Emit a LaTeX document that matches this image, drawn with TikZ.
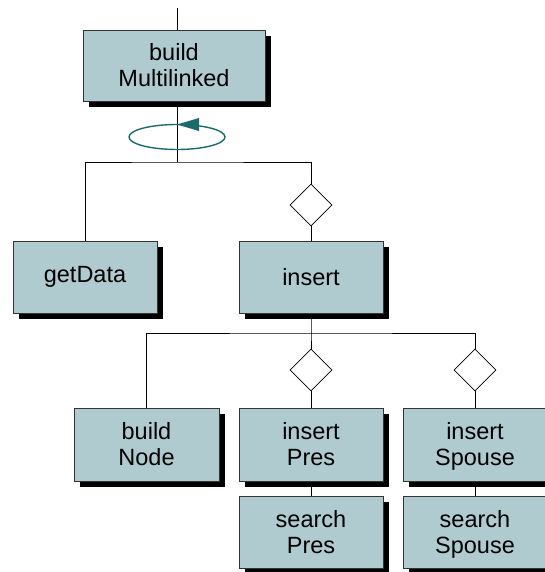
\documentclass[tikz,border=0pt]{standalone}
\usepackage{fontspec}
\setmainfont{Liberation Sans}
\usetikzlibrary{arrows.meta,shapes.geometric,shadows}
\definecolor{boxfill}{HTML}{AFCBCF}
\definecolor{looptea}{HTML}{1A6B6B}
\newcommand{\twoline}[2]{\rule[-5pt]{0pt}{26pt}#1\\\rule[-5pt]{0pt}{26pt}#2}
\begin{document}
\begin{tikzpicture}[x=1pt,y=-1pt,
  every node/.style={font=\fontsize{23.5}{26}\selectfont},
  task/.style={draw=black!80,fill=boxfill,line width=1pt,minimum width=144pt,
    minimum height=72pt,align=center,inner sep=0pt,
    drop shadow={shadow xshift=6pt,shadow yshift=-6pt,fill=black,opacity=1}},
  choice/.style={shape=diamond,draw,fill=white,line width=0.8pt,
    minimum width=42pt,minimum height=42pt,inner sep=0pt},
  loopline/.style={draw=looptea,line width=1.4pt}]
  \useasboundingbox (0,0) rectangle (545,572);
  \coordinate (entry) at (177,8);
  \coordinate (hub) at (177,162);
  \coordinate (hub2) at (311,333);
  \node[task,minimum width=182pt,minimum height=71pt] (build) at (174,66)
    {\twoline{build}{Multilinked}};
  \node[task] (getData) at (85,277) {getData};
  \node[task] (insert) at (311,277) {insert};
  \node[choice] (c1) at (311,205) {};
  \node[task,minimum width=145pt,minimum height=73pt] (buildNode) at (146.5,444.5)
    {\twoline{build}{Node}};
  \node[task,minimum height=73pt] (insertPres) at (311,444.5) {\twoline{insert}{Pres}};
  \node[task,minimum height=73pt] (insertSpouse) at (475,444.5) {\twoline{insert}{Spouse}};
  \node[choice] (c2) at (311,370) {};
  \node[choice] (c3) at (475,370) {};
  \node[task] (searchPres) at (311,532) {\twoline{search}{Pres}};
  \node[task] (searchSpouse) at (475,532) {\twoline{search}{Spouse}};
  \draw[line width=0.8pt] (entry) -- (entry |- build.north);
  \draw[line width=0.8pt] (build.south -| hub) -- (hub);
  \draw[line width=0.8pt] (getData.north) |- (hub) -| (c1.north);
  \draw[line width=0.8pt] (c1.south) -- (insert.north);
  \draw[line width=0.8pt] (insert.south) -- (hub2) -- (c2.north);
  \draw[line width=0.8pt] (buildNode.north) |- (hub2) -| (c3.north);
  \draw[line width=0.8pt] (c2.south) -- (insertPres.north);
  \draw[line width=0.8pt] (c3.south) -- (insertSpouse.north);
  \draw[line width=0.8pt] (insertPres.south) -- (searchPres.north);
  \draw[line width=0.8pt] (insertSpouse.south) -- (searchSpouse.north);
  \draw[loopline] (177,137) ellipse [x radius=48,y radius=12.5];
  \fill[looptea] (177,124.5) -- (199,118) -- (199,131) -- cycle;
\end{tikzpicture}
\end{document}
